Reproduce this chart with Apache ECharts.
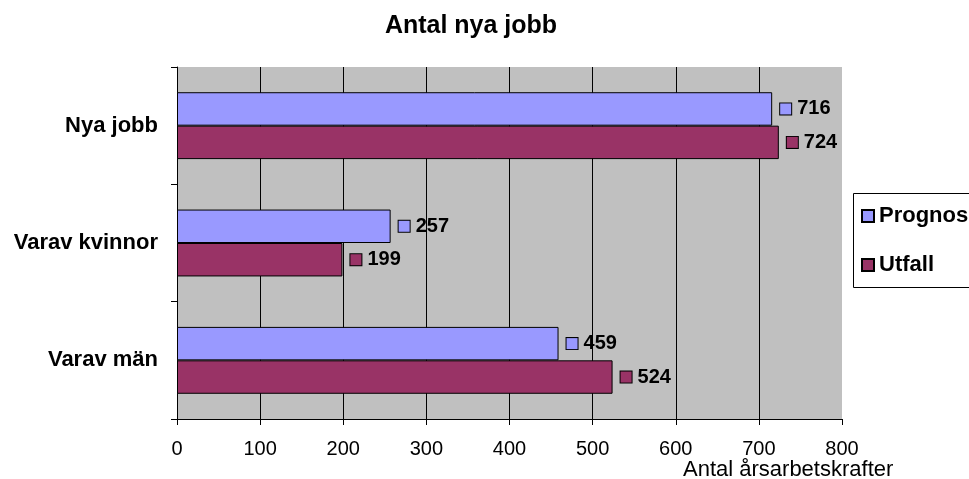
<!DOCTYPE html>
<html>
<head>
<meta charset="utf-8">
<script src="https://cdn.jsdelivr.net/npm/echarts@6/dist/echarts.min.js"></script>
<style>html,body{margin:0;padding:0;background:#fff;}#c{width:969px;height:479px;}</style>
</head>
<body>
<div id="c"></div>
<script>
const titleText = 'Antal nya jobb';
const axisName = 'Antal årsarbetskrafter';
const categories = ['Nya jobb', 'Varav kvinnor', 'Varav män'];
const seriesNames = ['Prognos', 'Utfall'];
const prognos = [716, 257, 459];
const utfall = [724, 199, 524];
const colors = ['#9999FF', '#993366'];

const FONT = "'Liberation Sans', Arial, sans-serif";
const chart = echarts.init(document.getElementById('c'));

function labelFor(color) {
  return {
    show: true,
    position: 'right',
    distance: 8,
    formatter: function (p) { return '{s|}{g|}{v|' + p.value + '}'; },
    rich: {
      s: { width: 11, height: 11, backgroundColor: color, borderColor: '#000', borderWidth: 1 },
      g: { width: 6 },
      v: { fontSize: 20, fontWeight: 'bold', color: '#000', fontFamily: FONT }
    }
  };
}

chart.setOption({
  animation: false,
  textStyle: { fontFamily: FONT },
  title: [
    { text: titleText, left: 466, textAlign: 'center', top: 9,
      textStyle: { fontSize: 25, fontWeight: 'bold', color: '#000', fontFamily: FONT } },
    { text: axisName, left: 678, top: 454,
      textStyle: { fontSize: 22, fontWeight: 'normal', color: '#000', fontFamily: FONT } }
  ],
  graphic: [
    { type: 'rect', z: 0, silent: true,
      shape: { x: 853.5, y: 193.5, width: 200, height: 94 },
      style: { fill: '#fff', stroke: '#000', lineWidth: 1 } }
  ],
  legend: {
    orient: 'vertical',
    left: 853, top: 193,
    padding: [12, 10, 15, 8],
    itemWidth: 12, itemHeight: 12, itemGap: 27, itemTextGap: 9,
    icon: 'rect',
    z: 10,
    data: seriesNames,
    textStyle: { fontSize: 22, fontWeight: 'bold', color: '#000', fontFamily: FONT }
  },
  grid: {
    left: 177, right: 127, top: 67, bottom: 60,
    show: true, backgroundColor: '#C0C0C0', borderWidth: 0
  },
  xAxis: {
    type: 'value', min: 0, max: 800, interval: 100,
    axisLine: { show: true, lineStyle: { color: '#000', width: 1 } },
    axisTick: { show: true, length: 6, lineStyle: { color: '#000' } },
    axisLabel: { fontSize: 20, color: '#000', margin: 20, fontFamily: FONT },
    splitLine: { show: true, showMaxLine: false, lineStyle: { color: '#000', width: 1 } }
  },
  yAxis: {
    type: 'category', data: categories, inverse: true,
    axisLine: { show: true, lineStyle: { color: '#000', width: 1 } },
    axisTick: { show: true, length: 6, lineStyle: { color: '#000' } },
    axisLabel: { fontSize: 22, fontWeight: 'bold', color: '#000', margin: 19, fontFamily: FONT },
    splitLine: { show: false }
  },
  series: [
    { name: seriesNames[0], type: 'bar', data: prognos, barGap: '0%', barCategoryGap: '43%',
      itemStyle: { color: colors[0], borderColor: '#000', borderWidth: 1 },
      label: labelFor(colors[0]) },
    { name: seriesNames[1], type: 'bar', data: utfall, barGap: '0%', barCategoryGap: '43%',
      itemStyle: { color: colors[1], borderColor: '#000', borderWidth: 1 },
      label: labelFor(colors[1]) }
  ]
});
</script>
</body>
</html>
